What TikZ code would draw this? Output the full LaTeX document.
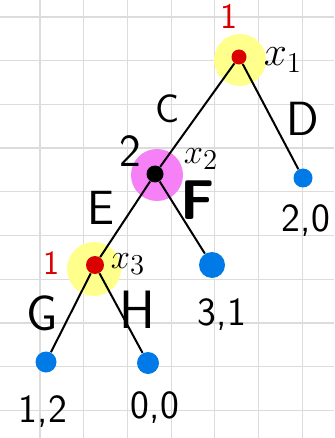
\documentclass[tikz,border=0pt]{standalone}
\usepackage{tikz}
\usetikzlibrary{positioning}
\usepackage{xcolor}

\definecolor{glowyellow}{RGB}{255,255,140}
\definecolor{glowpink}{RGB}{246,128,246}
\definecolor{dotred}{RGB}{218,0,0}
\definecolor{dotblue}{RGB}{0,122,230}
\definecolor{gridgray}{RGB}{220,220,220}

\begin{document}
\begin{tikzpicture}[
    x=0.5pt, y=-0.5pt,
    gridline/.style={draw=gridgray, line width=0.6pt},
    glow/.style={circle, fill=#1, minimum size=26pt, inner sep=0pt},
    dot/.style={circle, fill=#1, minimum size=8pt, inner sep=0pt},
    dot/.default=dotred,
    leaf/.style={circle, fill=dotblue, minimum size=#1, inner sep=0pt},
    leaf/.default=10pt,
    edge/.style={draw=black, line width=1pt},
    lbl/.style={font=\fontsize{#1}{#1}\selectfont\sffamily, inner sep=0pt},
    lbl/.default=20
]

\useasboundingbox (0,0) rectangle (334,438);

% Squared paper
\foreach \k in {0,...,6}
    \draw[gridline] ({40+43.7*\k},0) -- ({40+43.7*\k},438);
\foreach \k in {0,...,9}
    \draw[gridline] (0,{17+43.7*\k}) -- (334,{17+43.7*\k});

% Highlights behind the decision nodes
\node[glow=glowyellow] (glow1) at (240,60) {};
\node[glow=glowpink] (glow2) at (157,175) {};
\node[glow=glowyellow, minimum size=27pt] (glow3) at (94,269) {};

% Decision nodes
\node[dot, minimum size=7.5pt] (x1) at (239,57) {};
\node[dot=black, minimum size=8.5pt] (x2) at (155,174) {};
\node[dot, minimum size=9pt] (x3) at (95,265) {};

% Terminal nodes
\node[leaf=9.5pt] (leafD) at (303,178) {};
\node[leaf=13pt] (leafF) at (212,265) {};
\node[leaf=10.5pt] (leafG) at (46,362) {};
\node[leaf=11pt] (leafH) at (148,363) {};

% Edges
\draw[edge] (x1) -- (x2);
\draw[edge] (x1) -- (leafD);
\draw[edge] (x2) -- (x3);
\draw[edge] (x2) -- (leafF);
\draw[edge] (x3) -- (leafG);
\draw[edge] (x3) -- (leafH);

% Players and node names
\node[lbl=18, text=dotred] (pl1) at (229,16) {1};
\node[lbl=21] (nm1) at (283,60) {$x_1$};
\node[lbl=23] (pl2) at (130,151) {2};
\node[lbl=19] (nm2) at (201,159) {$x_2$};
\node[lbl=17, text=dotred] (pl3) at (51,263) {1};
\node[lbl=19] (nm3) at (128,264) {$x_3$};

% Action labels
\node[lbl=20] (actC) at (168,109) {C};
\node[lbl=24] (actD) at (303,119) {D};
\node[lbl=24] (actE) at (101,208) {E};
\node[lbl=28] (actF) at (198,200) {\bfseries F};
\node[lbl=25] (actG) at (42,313) {G};
\node[lbl=27] (actH) at (137,310) {H};

% Payoffs
\node[lbl, below=8pt of leafD, xshift=1.5pt] (payD) {2,0};
\node[lbl, below=10pt of leafF, xshift=5pt] (payF) {3,1};
\node[lbl, below=11pt of leafG, xshift=-1.5pt] (payG) {1,2};
\node[lbl, below=8.5pt of leafH, xshift=3.5pt] (payH) {0,0};

\end{tikzpicture}
\end{document}
